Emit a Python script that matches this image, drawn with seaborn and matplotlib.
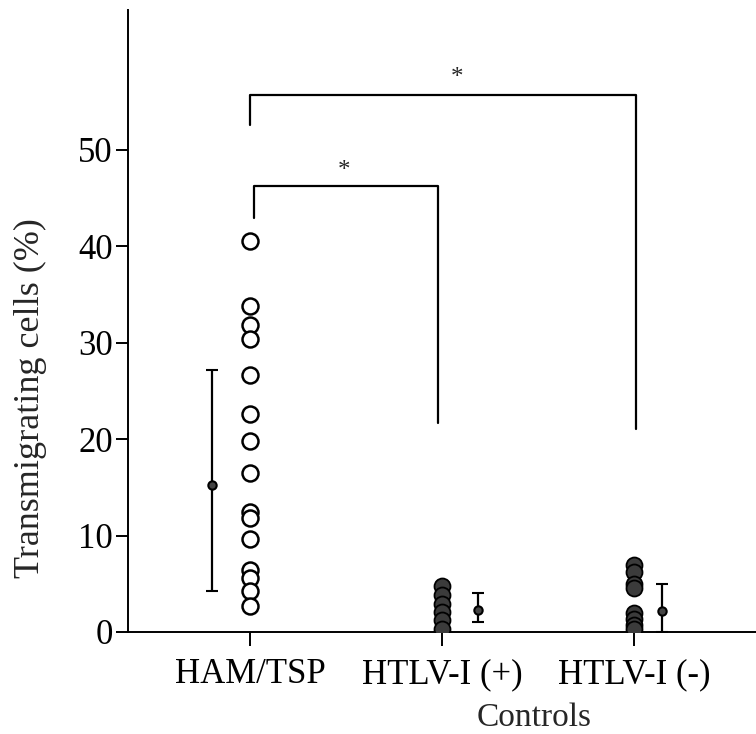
import numpy as np
import pandas as pd
import matplotlib
matplotlib.use("Agg")
import matplotlib.pyplot as plt
import seaborn as sns

# ---- data ----
categories = ["HAM/TSP", "HTLV-I (+)", "HTLV-I (-)"]
ham_tsp = [40.5, 33.8, 31.8, 30.4, 26.7, 22.6, 19.8, 16.5, 12.4, 11.8, 9.6, 6.4, 5.6, 4.2, 2.7]
htlv_pos = [4.8, 3.8, 2.9, 2.1, 1.2, 0.3]
htlv_neg = [6.9, 6.2, 5.0, 4.6, 2.0, 1.3, 0.7, 0.3]
means = [15.2, 2.3, 2.2]
upper = [27.2, 4.0, 5.0]
lower = [4.2, 1.0, 0.0]
yticks = [0, 10, 20, 30, 40, 50]

sns.set_theme(style="white")
plt.rcParams["font.family"] = ["Liberation Serif", "DejaVu Serif"]

df = pd.DataFrame({
    "group": [categories[0]] * len(ham_tsp) + [categories[1]] * len(htlv_pos) + [categories[2]] * len(htlv_neg),
    "value": ham_tsp + htlv_pos + htlv_neg,
})

fig = plt.figure(figsize=(7.56, 7.34), dpi=100)
ax = fig.add_axes([128 / 756, (734 - 632) / 734, 1 - 128 / 756, (632 - 10) / 734])

# open circles for HAM/TSP
sns.stripplot(data=df[df.group == categories[0]], x="group", y="value", order=categories,
              jitter=False, color="white", edgecolor="black", linewidth=1.8, size=11.5,
              ax=ax, zorder=3)
# filled circles for controls
sns.stripplot(data=df[df.group != categories[0]], x="group", y="value", order=categories,
              jitter=False, color="#3b3b3b", edgecolor="black", linewidth=1.3, size=11.5,
              ax=ax, zorder=3)

# mean +/- error bars, offset beside each column
offsets = [-0.20, 0.19, 0.145]
xpos = np.arange(len(categories)) + np.array(offsets)
m = np.array(means)
yerr = np.vstack([m - np.array(lower), np.array(upper) - m])
ax.errorbar(xpos, m, yerr=yerr, fmt="o", color="black", markerfacecolor="#444444",
            markeredgecolor="black", markersize=6, markeredgewidth=1.5, elinewidth=1.6,
            capsize=4.5, capthick=1.6, zorder=2)

# significance brackets
lw = 1.6
ax.plot([0.0, 0.0, 2.01, 2.01], [52.6, 55.7, 55.7, 21.0], color="black", lw=lw, clip_on=False)
ax.plot([0.02, 0.02, 0.98, 0.98], [42.9, 46.2, 46.2, 21.7], color="black", lw=lw, clip_on=False)
ax.text(1.08, 57.4, "*", ha="center", va="center", fontsize=18)
ax.text(0.49, 47.8, "*", ha="center", va="center", fontsize=18)

ax.set_xlim(-0.635, 2.635)
ax.set_ylim(0, 64.5)
ax.set_yticks(yticks)
ax.set_yticklabels([str(t) for t in yticks], fontsize=25)
ax.set_xticks(range(len(categories)))
ax.set_xticklabels(categories, fontsize=25)
ax.set_xlabel("")
ax.set_ylabel("")

for side in ["top", "right"]:
    ax.spines[side].set_visible(False)
for side in ["left", "bottom"]:
    ax.spines[side].set_linewidth(1.4)
    ax.spines[side].set_color("black")

ax.tick_params(axis="y", direction="out", length=9, width=1.4, pad=2, left=True, colors="black")
ax.tick_params(axis="x", direction="out", length=10, width=1.4, pad=9, bottom=True, colors="black")

fig.text(30 / 756, 1 - 398 / 734, "Transmigrating cells (%)", rotation=90,
         ha="center", va="center", fontsize=26)
fig.text(534 / 756, 1 - 718 / 734, "Controls", ha="center", va="center", fontsize=24)

fig.savefig("out.png", dpi=100, facecolor="white")
